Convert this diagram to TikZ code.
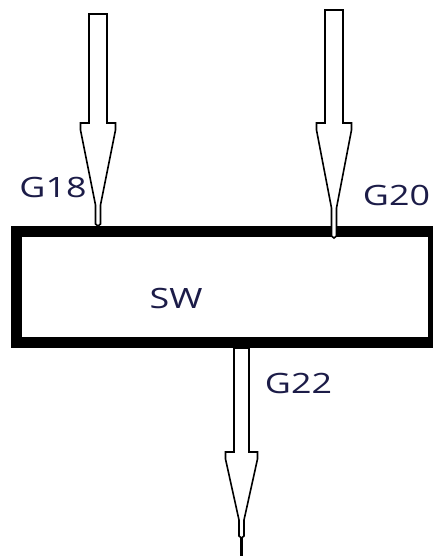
\documentclass[tikz,border=0pt]{standalone}
\usepackage{fontspec}
\setmainfont{Open Sans}
\definecolor{labelcol}{RGB}{28,28,72}
\newcommand\hollowarr[7]{%
  \draw[arrline] (#1-#6,#2) -- (#1+#6,#2) -- (#1+#6,#3) -- (#1+#7,#3) -- (#1+#7,#3+7)
    -- (#1+2.5,#4) -- (#1+2.5,#5-2) -- (#1,#5) -- (#1-2.5,#5-2) -- (#1-2.5,#4)
    -- (#1-#7,#3+7) -- (#1-#7,#3) -- (#1-#6,#3) -- cycle;}
\begin{document}
\begin{tikzpicture}[x=1pt,y=-1pt,
  arrline/.style={draw=black, line width=1.6pt, fill=white, line join=miter},
  lbl/.style={text=labelcol, font=\fontsize{28}{30}\selectfont, inner sep=0pt, xscale=1.28}]
\useasboundingbox (0,0) rectangle (433,556);
\clip (0,0) rectangle (433,556);
\node[draw, line width=11pt, minimum width=417pt, minimum height=111.5pt,
      inner sep=0pt, outer sep=0pt, anchor=north west] (sw) at (16.5,231) {};
\node[lbl] (swl) at (176,298) {SW};
% input arrows
\hollowarr{98}{14}{123}{205}{226}{9}{17.5}
\hollowarr{334}{10}{123}{208}{238}{9}{17.5}
% output arrow
\hollowarr{241.5}{348}{452}{520}{538}{7.5}{16}
\coordinate (outend) at (241.5,556);
\draw[line width=3pt] (241.5,537) -- (outend);
\node[lbl] (g18) at (53,187) {G18};
\node[lbl] (g20) at (396.5,195.5) {G20};
\node[lbl] (g22) at (298.5,383.5) {G22};
\end{tikzpicture}
\end{document}
